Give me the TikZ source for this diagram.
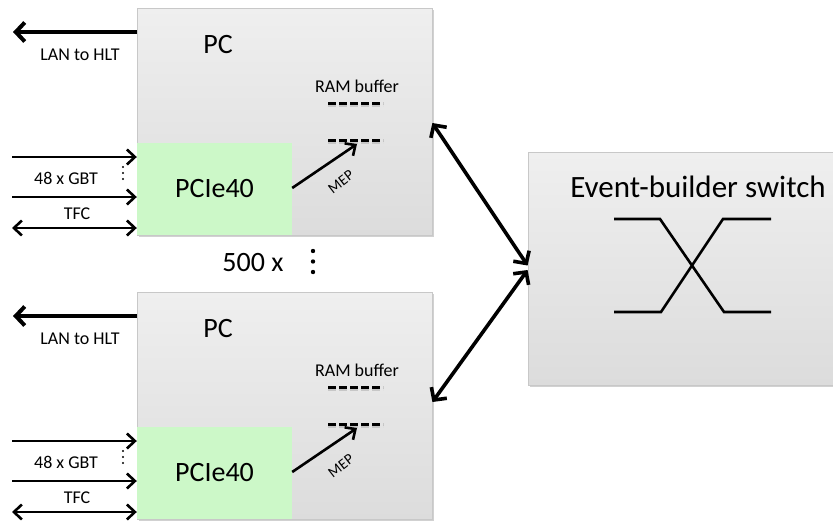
\documentclass[tikz,border=0pt]{standalone}
\usepackage{fontspec}
\setmainfont{Carlito}
\usetikzlibrary{arrows.meta,shadows}
\definecolor{boxtop}{HTML}{EFEFEF}
\definecolor{boxbot}{HTML}{DCDCDC}
\definecolor{boxline}{HTML}{C8C8C8}
\definecolor{pciegreen}{HTML}{CCF8C8}
\tikzset{
  graybox/.style={draw=boxline, line width=0.8pt, top color=boxtop, bottom color=boxbot,
    drop shadow={shadow xshift=2pt, shadow yshift=-2pt, fill=black, opacity=0.18},
    inner sep=0pt, minimum width=295pt, minimum height=227pt},
  greenbox/.style={fill=pciegreen, draw=none, inner sep=0pt, minimum width=155pt,
    minimum height=92pt, font=\fontsize{28}{30}\selectfont},
  bigtxt/.style={font=\fontsize{28}{30}\selectfont, inner sep=0pt},
  smalltxt/.style={font=\fontsize{18}{20}\selectfont, inner sep=0pt},
  thinarrow/.style={line width=2.6pt, -{Straight Barb[length=8pt,width=15pt,line width=2.6pt]}},
  thindbl/.style={line width=2.6pt, {Straight Barb[length=8pt,width=15pt,line width=2.6pt]}-{Straight Barb[length=8pt,width=15pt,line width=2.6pt]}},
  thickarrow/.style={line width=4pt, -{Straight Barb[length=9pt,width=19pt,line width=4pt]}},
  thickdbl/.style={line width=3.6pt, {Straight Barb[length=9pt,width=19pt,line width=3.6pt]}-{Straight Barb[length=9pt,width=19pt,line width=3.6pt]}},
  ramdash/.style={line width=3pt, dash pattern=on 8pt off 3pt},
  xline/.style={line width=2.6pt},
}
\begin{document}
\begin{tikzpicture}[x=1pt,y=-1pt]
\useasboundingbox (0,0) rectangle (833,520);
% event-builder switch
\node[graybox, minimum width=305pt, minimum height=233pt] (sw) at (680.5,268.5) {};
\node[font=\fontsize{31}{33}\selectfont, inner sep=0pt] (swlabel) at (698,187) {Event-builder switch};
\coordinate (xa) at (614,219);
\coordinate (xb) at (660,219);
\coordinate (xc) at (724,312);
\coordinate (xd) at (771,312);
\coordinate (xe) at (723,219);
\coordinate (xf) at (771,219);
\coordinate (xg) at (661,312);
\coordinate (xh) at (614,312);
\draw[xline] (xa) -- (xb) -- (xc) -- (xd);
\draw[xline] (xf) -- (xe) -- (xg) -- (xh);
% PCs
\foreach \i/\dy in {1/0,2/284}{
  \begin{scope}[shift={(0,\dy)}]
    \node[graybox] (pc\i) at (284.5,121.5) {};
    \node[greenbox] (pcie\i) at (214.5,189) {PCIe40};
    \node[bigtxt] (pclabel\i) at (218,45) {PC};
    % LAN
    \coordinate (lan\i) at (13,32);
    \draw[thickarrow] (lan\i -| pc\i.west) -- (lan\i);
    \node[smalltxt] (lanlabel\i) at (80,55) {LAN to HLT};
    % GBT inputs
    \coordinate (gbta\i) at (12,157);
    \coordinate (gbtb\i) at (12,197);
    \draw[thinarrow] (gbta\i) -- (gbta\i -| pcie\i.west);
    \draw[thinarrow] (gbtb\i) -- (gbtb\i -| pcie\i.west);
    \node[smalltxt] (gbtlabel\i) at (66,178) {48 x GBT};
    \foreach \yy in {167,173,179}{\fill (123,\yy) circle (1.2pt);}
    % TFC
    \coordinate (tfc\i) at (12,228);
    \draw[thindbl] (tfc\i) -- (tfc\i -| pcie\i.west);
    \node[smalltxt] (tfclabel\i) at (77,214) {TFC};
    % RAM buffer
    \node[smalltxt] (ramlabel\i) at (357,86) {RAM buffer};
    \coordinate (rama\i) at (328,103);
    \coordinate (ramb\i) at (383,103);
    \coordinate (ramc\i) at (328,140);
    \coordinate (ramd\i) at (383,140);
    \draw[ramdash, gray!60, opacity=0.6] ([shift={(0,2)}]rama\i) -- ([shift={(0,2)}]ramb\i);
    \draw[ramdash] (rama\i) -- (ramb\i);
    \draw[ramdash, gray!60, opacity=0.6] ([shift={(0,2)}]ramc\i) -- ([shift={(0,2)}]ramd\i);
    \draw[ramdash] (ramc\i) -- (ramd\i);
    % MEP
    \coordinate (meptip\i) at (357,144);
    \draw[thinarrow] (pcie\i.east |- 0,188) -- (meptip\i);
    \node[font=\fontsize{15}{17}\selectfont, inner sep=0pt, rotate=38] (meplabel\i) at (341,182) {MEP};
  \end{scope}
}
% 500 x
\node[bigtxt] (count) at (253,263) {500 x};
\foreach \yy in {251,261.5,272}{\fill (313,\yy) circle (2.2pt);}
% links to switch
\draw[thickdbl] (pc1.east |- 0,123) -- ([yshift=3pt]sw.west);
\draw[thickdbl] (pc2.east |- 0,402) -- ([yshift=-1.5pt]sw.west);
\end{tikzpicture}
\end{document}
